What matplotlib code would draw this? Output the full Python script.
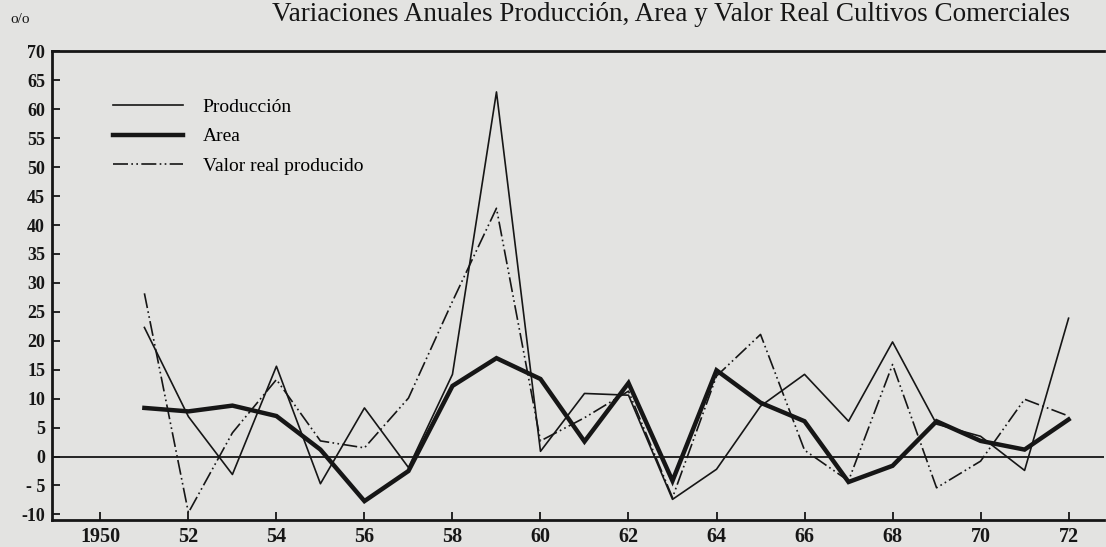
import matplotlib
matplotlib.use("Agg")
import matplotlib.pyplot as plt

# Variaciones anuales (%)
years = list(range(1951, 1973))
produccion = [22.3, 6.9, -3.1, 15.6, -4.7, 8.4, -1.9, 14.2, 63.0, 0.9, 10.9,
              10.6, -7.4, -2.2, 8.7, 14.2, 6.1, 19.8, 5.6, 3.5, -2.4, 23.9]
area = [8.4, 7.8, 8.8, 7.0, 1.2, -7.7, -2.5, 12.2, 17.0, 13.4, 2.6,
        12.7, -4.2, 14.9, 9.3, 6.1, -4.4, -1.6, 6.1, 2.7, 1.2, 6.4]
valor_real = [28.2, -9.7, 4.1, 13.3, 2.7, 1.5, 10.1, 26.8, 42.9, 2.7, 6.7,
              11.3, -7.1, 13.9, 21.1, 1.1, -4.2, 15.9, -5.4, -0.8, 9.9, 7.0]

x_ticks = [1950, 1952, 1954, 1956, 1958, 1960, 1962, 1964, 1966, 1968, 1970, 1972]
x_labels = ["1950", "52", "54", "56", "58", "60", "62", "64", "66", "68", "70", "72"]
y_ticks = list(range(-10, 75, 5))
y_labels = ["-10", "- 5"] + [str(v) for v in range(0, 75, 5)]

title = "Variaciones Anuales Producción, Area y Valor Real Cultivos Comerciales"

BG = "#e3e3e1"
INK = "#161616"
plt.rcParams["font.family"] = ["Liberation Serif", "DejaVu Serif"]

fig = plt.figure(figsize=(11.06, 5.47), dpi=100, facecolor=BG)
ax = fig.add_axes([0.047, 0.049, 0.951, 0.857], facecolor=BG)

ax.plot(years, produccion, color=INK, lw=1.2, label="Producción")
ax.plot(years, area, color=INK, lw=3.2, label="Area", solid_joinstyle="miter")
ax.plot(years, valor_real, color=INK, lw=1.2, linestyle=(0, (9, 2, 1, 2, 1, 2)),
        label="Valor real producido")
ax.axhline(0, color=INK, lw=1.3)

ax.set_xlim(1948.9, 1972.8)
ax.set_ylim(-11, 70)
ax.set_xticks(x_ticks)
ax.set_xticklabels(x_labels)
ax.set_yticks(y_ticks)
ax.set_yticklabels(y_labels)
ax.tick_params(direction="in", length=6, width=1.3, colors=INK, pad=5)
ax.tick_params(axis="x", labelsize=14.5)
ax.tick_params(axis="y", labelsize=13)
for lab in ax.get_xticklabels() + ax.get_yticklabels():
    lab.set_fontweight("bold")

for side in ["left", "bottom", "top"]:
    ax.spines[side].set_linewidth(2.0)
    ax.spines[side].set_color(INK)
ax.spines["right"].set_visible(False)

ax.legend(loc="upper left", bbox_to_anchor=(0.0415, 0.937), frameon=False,
          handlelength=3.6, handletextpad=1.0, labelspacing=0.6,
          prop={"size": 14})

fig.text(0.607, 0.974, title, ha="center", va="center", fontsize=19.5, color=INK)
fig.text(0.009, 0.965, "o/o", ha="left", va="center", fontsize=11, color=INK)

fig.savefig("out.png", dpi=100, facecolor=BG)
